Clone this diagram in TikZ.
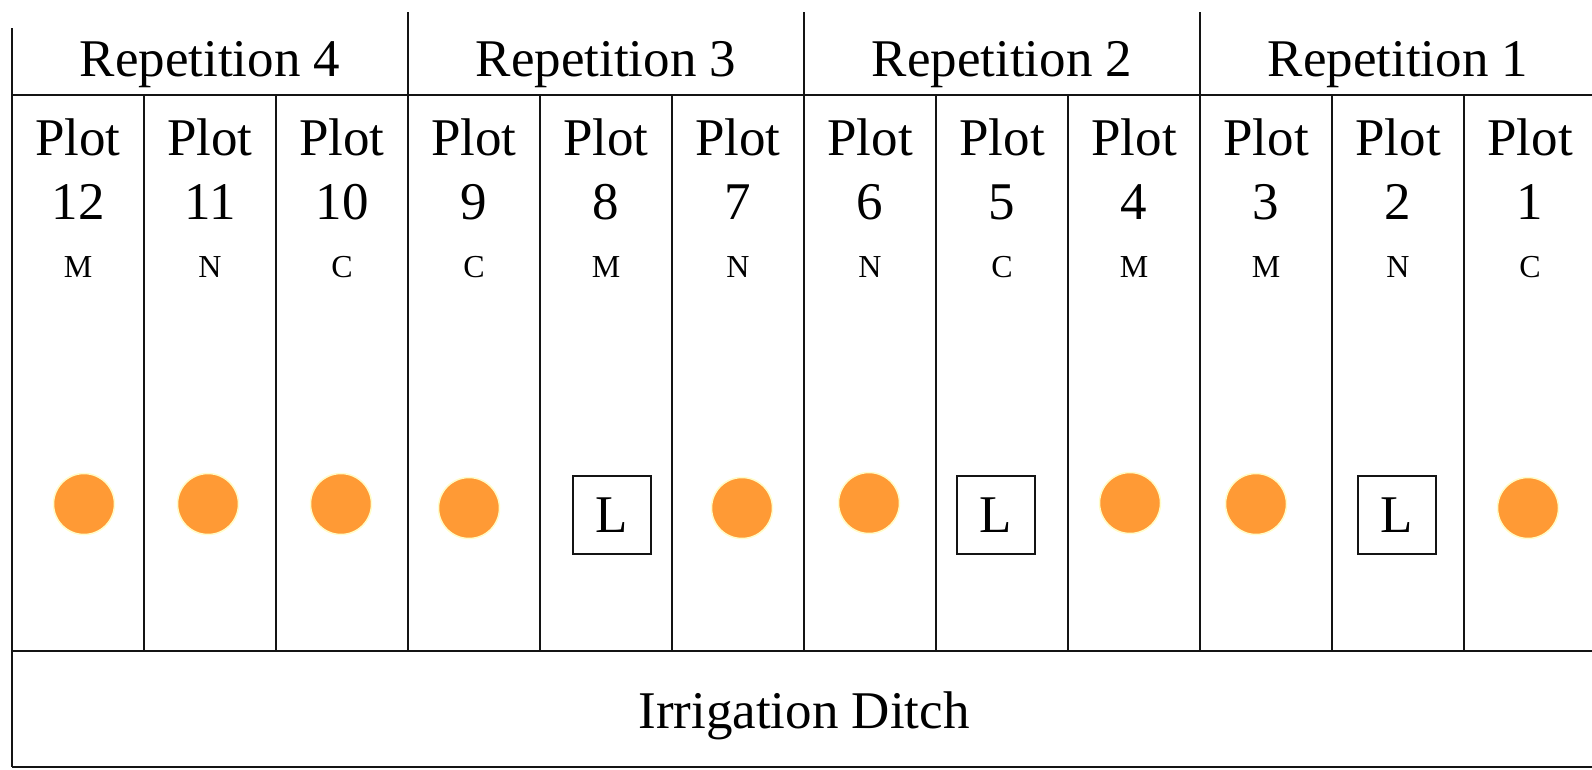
\documentclass[tikz,border=0pt]{standalone}
\usepackage{fontspec}
\setmainfont{Liberation Serif}
\begin{document}
\begin{tikzpicture}[x=1pt,y=-1pt]
		\tikzstyle{every node}=[font=\fontsize{53pt}{64pt}\selectfont, inner sep=0pt]
		\tikzstyle{field line}=[color={rgb,255:red,20; green,20; blue,20}, draw opacity=1, line width=2pt]
		\tikzstyle{plot text}=[anchor=base]
		\tikzstyle{treat text}=[anchor=base, font=\fontsize{32pt}{38pt}\selectfont]
		\tikzstyle{spot}=[circle, minimum size=61pt, fill={rgb,255:red,255; green,154; blue,53}, draw={rgb,255:red,255; green,252; blue,200}, line width=1.5pt]
		\tikzstyle{lbox}=[draw={rgb,255:red,20; green,20; blue,20}, line width=2pt, minimum size=78pt]
		
		\useasboundingbox (0,0) rectangle (1592,769);
		
		% outline and rows
		\draw[field line] (12,28) -- (12,767);
		\draw[field line] (12,95) -- (1592,95);
		\draw[field line] (12,651) -- (1592,651);
		\draw[field line] (12,767) -- (1592,767);
		
		% repetition borders
		\draw[field line] (408,12) -- (408,651);
		\draw[field line] (804,12) -- (804,651);
		\draw[field line] (1200,12) -- (1200,651);
		
		% plot borders
		\draw[field line] (144,95) -- (144,651);
		\draw[field line] (276,95) -- (276,651);
		\draw[field line] (540,95) -- (540,651);
		\draw[field line] (672,95) -- (672,651);
		\draw[field line] (936,95) -- (936,651);
		\draw[field line] (1068,95) -- (1068,651);
		\draw[field line] (1332,95) -- (1332,651);
		\draw[field line] (1464,95) -- (1464,651);
		
		% repetitions
		\node[plot text] (rep4) at (210,76) {Repetition 4};
		\node[plot text] (rep3) at (606,76) {Repetition 3};
		\node[plot text] (rep2) at (1002,76) {Repetition 2};
		\node[plot text] (rep1) at (1398,76) {Repetition 1};
		
		% plots
		\node[plot text] (plot12) at (78,155.5) {Plot};
		\node[plot text] (num12) at (78,219.5) {12};
		\node[treat text] (trt12) at (78,277) {M};
		
		\node[plot text] (plot11) at (210,155.5) {Plot};
		\node[plot text] (num11) at (210,219.5) {11};
		\node[treat text] (trt11) at (210,277) {N};
		
		\node[plot text] (plot10) at (342,155.5) {Plot};
		\node[plot text] (num10) at (342,219.5) {10};
		\node[treat text] (trt10) at (342,277) {C};
		
		\node[plot text] (plot9) at (474,155.5) {Plot};
		\node[plot text] (num9) at (474,219.5) {9};
		\node[treat text] (trt9) at (474,277) {C};
		
		\node[plot text] (plot8) at (606,155.5) {Plot};
		\node[plot text] (num8) at (606,219.5) {8};
		\node[treat text] (trt8) at (606,277) {M};
		
		\node[plot text] (plot7) at (738,155.5) {Plot};
		\node[plot text] (num7) at (738,219.5) {7};
		\node[treat text] (trt7) at (738,277) {N};
		
		\node[plot text] (plot6) at (870,155.5) {Plot};
		\node[plot text] (num6) at (870,219.5) {6};
		\node[treat text] (trt6) at (870,277) {N};
		
		\node[plot text] (plot5) at (1002,155.5) {Plot};
		\node[plot text] (num5) at (1002,219.5) {5};
		\node[treat text] (trt5) at (1002,277) {C};
		
		\node[plot text] (plot4) at (1134,155.5) {Plot};
		\node[plot text] (num4) at (1134,219.5) {4};
		\node[treat text] (trt4) at (1134,277) {M};
		
		\node[plot text] (plot3) at (1266,155.5) {Plot};
		\node[plot text] (num3) at (1266,219.5) {3};
		\node[treat text] (trt3) at (1266,277) {M};
		
		\node[plot text] (plot2) at (1398,155.5) {Plot};
		\node[plot text] (num2) at (1398,219.5) {2};
		\node[treat text] (trt2) at (1398,277) {N};
		
		\node[plot text] (plot1) at (1530,155.5) {Plot};
		\node[plot text] (num1) at (1530,219.5) {1};
		\node[treat text] (trt1) at (1530,277) {C};
		
		% markers
		\node[spot] (spot12) at (84,504) {};
		\node[spot] (spot11) at (208,504) {};
		\node[spot] (spot10) at (341,504) {};
		\node[spot] (spot9) at (469,508) {};
		\node[lbox] (lbox8) at (612,515) {L};
		\node[spot] (spot7) at (742,508) {};
		\node[spot] (spot6) at (869,503) {};
		\node[lbox] (lbox5) at (996,515) {L};
		\node[spot] (spot4) at (1130,503) {};
		\node[spot] (spot3) at (1256,504) {};
		\node[lbox] (lbox2) at (1397,515) {L};
		\node[spot] (spot1) at (1528,508) {};
		
		\node[plot text] (ditch) at (804,728) {Irrigation Ditch};
		
	\end{tikzpicture}
\end{document}
